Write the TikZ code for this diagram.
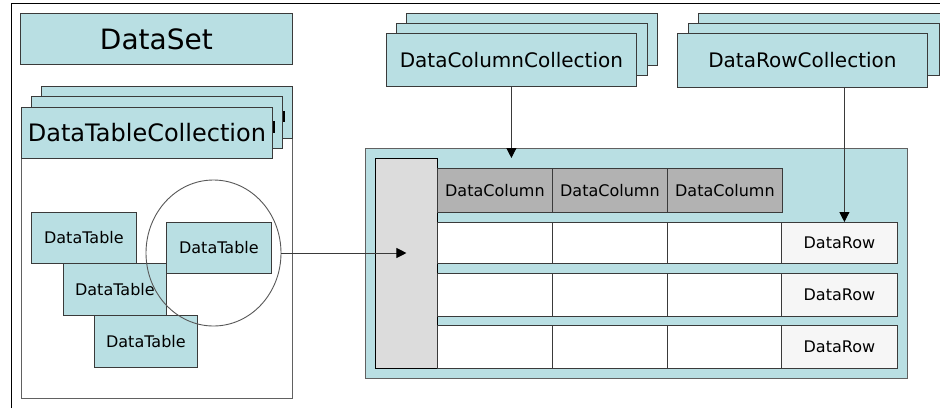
\documentclass[tikz,border=0pt]{standalone}
\usepackage{fontspec}
\setmainfont{DejaVu Sans}
\usetikzlibrary{arrows.meta,shapes.geometric}
\definecolor{teal}{HTML}{B9DFE3}
\definecolor{hdrgray}{HTML}{B2B2B2}
\definecolor{colgray}{HTML}{DCDCDC}
\definecolor{rowwhite}{HTML}{F6F6F6}
\definecolor{edge}{HTML}{3A3A3A}
\tikzset{
  box/.style={draw=edge, line width=0.8pt, fill=teal, inner sep=0pt, anchor=north west, text=black},
  bigtxt/.style={font=\fontsize{28}{30}\selectfont},
  midtxt/.style={font=\fontsize{24}{26}\selectfont},
  coltxt/.style={font=\fontsize{20}{22}\selectfont},
  smalltxt/.style={font=\fontsize{16}{18}\selectfont},
  hdrcell/.style={draw=edge, line width=0.8pt, fill=hdrgray, inner sep=0pt, anchor=north west, minimum width=115pt, minimum height=44pt, font=\fontsize{16}{18}\selectfont},
  cell/.style={draw=edge, line width=0.8pt, fill=white, inner sep=0pt, anchor=north west, minimum width=115pt},
  rowcell/.style={draw=edge, line width=0.8pt, fill=rowwhite, inner sep=0pt, anchor=north west, minimum width=116pt, font=\fontsize{16}{18}\selectfont},
  conn/.style={draw=edge, line width=0.9pt, -{Triangle[length=10pt,width=10pt,color=black]}},
  panel/.style={draw=edge!80, line width=1.1pt, inner sep=0pt, anchor=north west},
  glyphend/.style={fill=black, draw=none},
}
\begin{document}
\begin{tikzpicture}[x=1pt,y=-1pt]
\useasboundingbox (0,0) rectangle (940,408);
\clip (0,0) rectangle (940,408);

% outer frame
\draw[line width=1pt, black] (11,408) -- (11,3) -- (940,3);

% ---------- DataSet side ----------
\node[box, bigtxt, minimum width=272pt, minimum height=51pt] (ds) at (20,13) {DataSet};

% table collection panel
\node[panel, fill=white, minimum width=271pt, minimum height=291pt] (tpanel) at (21,107) {};

% stacked collection boxes (the rear copies only show the last letter's stem)
\node[box, minimum width=251pt, minimum height=52pt] (dtc3) at (41,86) {};
\fill[glyphend] (282,111) rectangle (285,122);
\node[box, minimum width=251pt, minimum height=52pt] (dtc2) at (31,96) {};
\fill[glyphend] (272,121) rectangle (275,133);
\node[box, midtxt, minimum width=251pt, minimum height=51pt] (dtc1) at (21,107) {DataTableCollection};

% tables
\node[box, smalltxt, minimum width=105pt, minimum height=51pt] (t1) at (31,212) {DataTable};
\node[box, smalltxt, minimum width=103pt, minimum height=52pt] (t2) at (63,263) {DataTable};
\node[box, smalltxt, minimum width=103pt, minimum height=52pt] (t3) at (94,315) {DataTable};
\node[box, smalltxt, minimum width=105pt, minimum height=51pt] (t4) at (166,222) {DataTable};

% highlight ring
\node[draw=edge!85, line width=0.9pt, ellipse, minimum width=135pt, minimum height=146pt, inner sep=0pt] (ring) at (213.5,253) {};

% ---------- table structure ----------
\node[panel, fill=teal, minimum width=542pt, minimum height=230pt] (tbl) at (365,148) {};
\node[draw=black, line width=0.9pt, fill=colgray, inner sep=0pt, anchor=north west, minimum width=62pt, minimum height=210pt] (rh) at (375,158) {};

\node[hdrcell] (c1) at (437,168) {DataColumn};
\node[hdrcell] (c2) at (552,168) {DataColumn};
\node[hdrcell] (c3) at (667,168) {DataColumn};

% rows
\foreach \r/\y/\h in {1/222/41, 2/273/43, 3/325/43}{
  \node[cell, minimum height=\h pt] (r\r a) at (437,\y) {};
  \node[cell, minimum height=\h pt] (r\r b) at (552,\y) {};
  \node[cell, minimum height=\h pt] (r\r c) at (667,\y) {};
  \node[rowcell, minimum height=\h pt] (dr\r) at (781,\y) {DataRow};
}

% ---------- collections ----------
\node[box, minimum width=251pt, minimum height=52pt] (dcc3) at (406,13) {};
\node[box, minimum width=251pt, minimum height=52pt] (dcc2) at (396,23) {};
\node[box, coltxt, minimum width=250pt, minimum height=53pt] (dcc) at (386,33) {DataColumnCollection};

\node[box, minimum width=251pt, minimum height=52pt] (drc3) at (698,13) {};
\node[box, minimum width=251pt, minimum height=52pt] (drc2) at (688,23) {};
\node[box, coltxt, minimum width=250pt, minimum height=54pt] (drc) at (677,33) {DataRowCollection};

% ---------- connectors ----------
\draw[conn] (ring.east) -- (ring.east -| rh.center);
\draw[conn] (dcc.south) -- (dcc.south |- rh.north);
\coordinate (drtop) at ([xshift=5]dr1.north);
\draw[conn] (drc.south -| drtop) -- (drtop);
\end{tikzpicture}
\end{document}
